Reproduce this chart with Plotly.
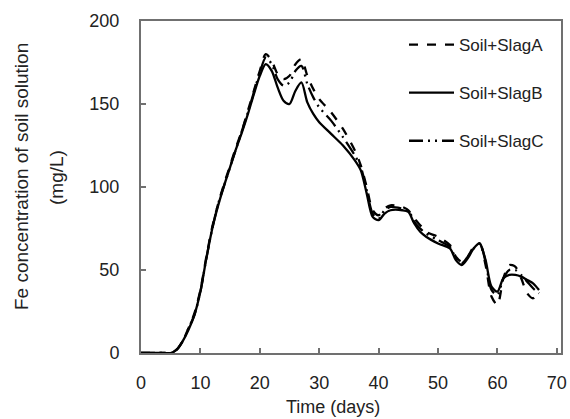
import plotly.graph_objects as go

days = [0, 1, 2, 3, 4, 5, 6, 7, 8, 9, 10, 11, 12, 13, 14, 15, 16, 17, 18, 19, 20,
        21, 22, 23, 24, 25, 26, 27, 28, 29, 30, 32, 34, 36, 37, 38, 39, 40, 41,
        42, 44, 45, 46, 47, 48, 50, 52, 53, 54, 55, 56, 57, 58, 59, 60, 61, 62,
        63, 64, 65, 66, 67]

slag_a = [0, 0, 0, 0, 0, 0, 2, 7, 15, 24, 38, 58, 76, 90, 102, 113, 124, 134, 146, 158, 170,
          180, 176, 168, 165, 167, 174, 177, 167, 159, 153, 145, 135, 122, 113, 100, 86, 83, 87,
          89, 88, 86, 81, 77, 73, 70, 65, 58, 55, 58, 64, 66, 53, 34, 29, 45, 53,
          52, 45, 36, 33, 38]

slag_b = [0, 0, 0, 0, 0, 0, 2, 7, 14, 23, 37, 57, 75, 89, 101, 112, 123, 133, 144, 156, 167,
          174, 170, 160, 152, 150, 158, 163, 151, 144, 139, 132, 125, 116, 110, 96, 82, 80, 84,
          86, 86, 85, 78, 73, 70, 66, 63, 56, 53, 57, 63, 66, 56, 40, 37, 45, 47,
          47, 46, 44, 42, 38]

slag_c = [0, 0, 0, 0, 0, 0, 2, 7, 15, 23, 37, 57, 75, 90, 101, 112, 123, 134, 145, 157, 169,
          178, 174, 165, 161, 163, 170, 173, 162, 154, 148, 140, 130, 119, 112, 98, 84, 81, 86,
          88, 87, 86, 79, 75, 72, 68, 64, 57, 54, 58, 63, 66, 55, 38, 35, 45, 50,
          50, 47, 43, 39, 36]

names = ["Soil+SlagA", "Soil+SlagB", "Soil+SlagC"]
x_ticks = [0, 10, 20, 30, 40, 50, 60, 70]
y_ticks = [0, 50, 100, 150, 200]
x_title = "Time (days)"
y_title_lines = ["Fe concentration of soil solution", "(mg/L)"]

series = [slag_a, slag_b, slag_c]
dashes = ["dash", "solid", "14px,5px,2px,5px,2px,5px"]

FONT = "Liberation Sans, Arial, sans-serif"
TXT = "#222"

W, H = 570, 419
L, R, T, B = 141, 9, 21, 66
pw = W - L - R
ph = H - T - B


def px_x(v):
    return (v - L) / pw


def px_y(v):
    return (H - B - v) / ph


fig = go.Figure()
for name, vals, dsh in zip(names, series, dashes):
    fig.add_trace(go.Scatter(
        x=days, y=vals, name=name, mode="lines",
        line=dict(color="black", width=2.3, dash=dsh, shape="spline", smoothing=0.8),
        legendgroup=name,
    ))

axis_common = dict(
    showline=True, linecolor="#707070", linewidth=2, mirror=True,
    ticks="inside", ticklen=5, tickwidth=1.5, tickcolor="#707070",
    showgrid=False, zeroline=False, automargin=False,
    tickfont=dict(family=FONT, size=18, color=TXT),
)

fig.update_layout(
    width=W, height=H,
    margin=dict(l=L, r=R, t=T, b=B),
    paper_bgcolor="white", plot_bgcolor="white",
    showlegend=True,
    legend=dict(
        x=px_x(404), y=px_y(27), yanchor="top", xanchor="left",
        font=dict(family=FONT, size=17, color=TXT),
        tracegroupgap=23, itemwidth=45, bgcolor="rgba(0,0,0,0)",
    ),
    xaxis=dict(range=[0, 70.7], tickvals=x_ticks, ticklabelstandoff=12, **axis_common),
    yaxis=dict(range=[0, 200], tickvals=y_ticks, ticklabelstandoff=16, **axis_common),
    annotations=[
        dict(text=x_title, x=px_x(333), y=px_y(407), xanchor="center", yanchor="middle",
             xref="paper", yref="paper", showarrow=False,
             font=dict(family=FONT, size=18, color=TXT)),
        dict(text=y_title_lines[0], x=px_x(21), y=px_y(177), textangle=-90,
             xanchor="center", yanchor="middle", xref="paper", yref="paper",
             showarrow=False, font=dict(family=FONT, size=19, color=TXT)),
        dict(text=y_title_lines[1], x=px_x(56), y=px_y(178), textangle=-90,
             xanchor="center", yanchor="middle", xref="paper", yref="paper",
             showarrow=False, font=dict(family=FONT, size=19, color=TXT)),
    ],
)

fig.write_html("out.html", config={"displayModeBar": False},
               post_script="document.body.style.margin='0';")
